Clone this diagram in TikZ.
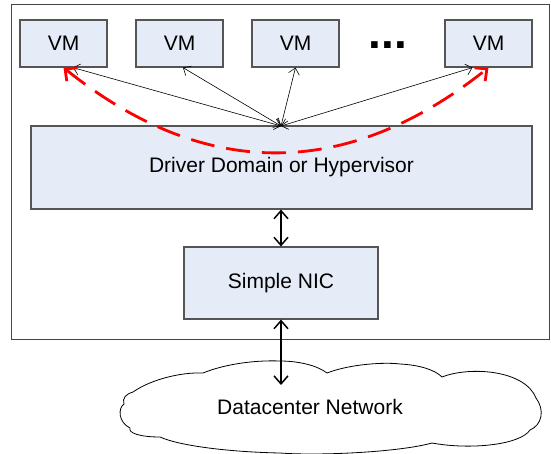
\documentclass[tikz,border=0pt]{standalone}
\usepackage{fontspec}
\setmainfont{Liberation Sans}
\usetikzlibrary{arrows.meta,calc}
\definecolor{boxfill}{RGB}{230,236,247}
\definecolor{boxline}{RGB}{85,85,85}
\definecolor{frameline}{RGB}{70,70,70}
\begin{document}
\begin{tikzpicture}[x=1pt,y=-1pt,
  box/.style={draw=boxline,fill=boxfill,line width=1.2pt,inner sep=0pt,
    font=\fontsize{21}{25}\selectfont},
  thin/.style={line width=0.6pt,{Straight Barb[length=6pt,width=11pt]}-{Straight Barb[length=6pt,width=11pt]}},
  thick/.style={line width=1.5pt,{Straight Barb[length=8pt,width=14pt]}-{Straight Barb[length=8pt,width=14pt]}},
  redarc/.style={red,line width=2.8pt,dash pattern=on 24pt off 12pt,
    {Straight Barb[length=9pt,width=17pt]}-{Straight Barb[length=9pt,width=17pt]}}]
\useasboundingbox (0,0) rectangle (551,453);
% outer frame
\draw[frameline,line width=1pt] (11,4) rectangle (549.5,339);
% VMs
\node[box,minimum width=87pt,minimum height=47pt] (vm1) at (63.5,43.5) {VM};
\node[box,minimum width=87pt,minimum height=47pt] (vm2) at (179.5,43.5) {VM};
\node[box,minimum width=87pt,minimum height=47pt] (vm3) at (295.5,43.5) {VM};
\node[box,minimum width=87pt,minimum height=47pt] (vm4) at (488.5,43.5) {VM};
\node[anchor=base,inner sep=0pt,font=\fontsize{46}{50}\selectfont\bfseries] (dots) at (388,48.7) {...};
% driver and nic
\node[box,minimum width=501pt,minimum height=83pt] (drv) at (281.5,167.5) {Driver Domain or Hypervisor};
\node[box,minimum width=194pt,minimum height=72pt] (nic) at (281,283) {Simple NIC};
% cloud
\draw[line width=0.8pt,fill=white]
  (133,392) .. controls (150,380) and (180,372) .. (203,373)
  .. controls (225,364) and (255,360) .. (280,361)
  .. controls (300,361) and (318,366) .. (327,373)
  .. controls (350,364) and (385,362) .. (400,364)
  .. controls (420,365) and (435,370) .. (442,377)
  .. controls (470,366) and (525,370) .. (536,398)
  .. controls (545,410) and (542,425) .. (530,430)
  .. controls (520,445) and (470,450) .. (432,443)
  .. controls (400,452) and (320,456) .. (280,453)
  .. controls (230,452) and (180,446) .. (160,437)
  .. controls (140,437) and (128,433) .. (130,428)
  .. controls (118,422) and (118,408) .. (124,404)
  .. controls (122,398) and (126,394) .. (133,392) -- cycle;
\node[inner sep=0pt,font=\fontsize{21}{25}\selectfont] (net) at (310,407) {Datacenter Network};
\coordinate (nettop) at (281,385);
% connectors
\coordinate (hub) at (281,126);
\draw[thin] (hub) -- ($(vm1.south)+(9.5,0)$);
\draw[thin] (hub) -- ($(vm2.south)+(3.5,0)$);
\draw[thin] (hub) -- (vm3.south);
\draw[thin] (hub) -- ($(vm4.south)+(-16,0)$);
\draw[thick] (nic.north) -- (nic.north |- drv.south);
\draw[thick] (nic.south) -- (nettop);
\draw[redarc] (vm1.south) .. controls +(141,113) and +(-142,113) .. (vm4.south);
\end{tikzpicture}
\end{document}
